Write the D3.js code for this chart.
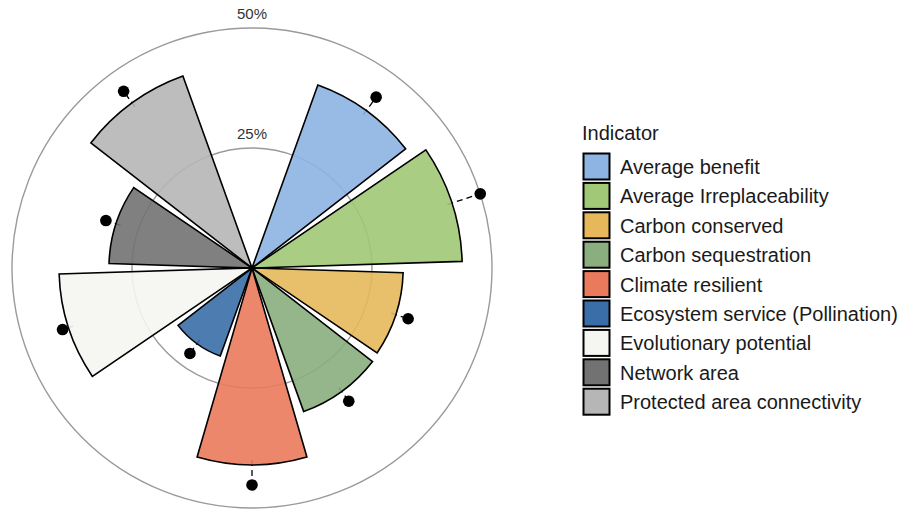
<!DOCTYPE html>
<html>
<head>
<meta charset="utf-8">
<script src="https://cdn.jsdelivr.net/npm/d3@7"></script>
<style>
  body { margin: 0; background: #fff; }
  text { font-family: "Liberation Sans", Arial, sans-serif; }
</style>
</head>
<body>
<svg id="chart"></svg>
<script>
// indicator names, values (share) and upper whisker values
const indicators = ["Average benefit", "Average Irreplaceability", "Carbon conserved",
    "Carbon sequestration", "Climate resilient", "Ecosystem service (Pollination)",
    "Evolutionary potential", "Network area", "Protected area connectivity"]
const values = [0.405, 0.438, 0.315, 0.318, 0.41, 0.195, 0.402, 0.298, 0.425]
const uppers = [0.44, 0.50, 0.342, 0.343, 0.452, 0.22, 0.415, 0.32, 0.455]
const colors = ["#8db4e2", "#a1c877", "#e6b85b", "#8aae7d", "#ea7a5c",
    "#3a6ea8", "#f5f6f1", "#727272", "#b6b6b6"]
const gridTicks = [0.25, 0.5]

const width = 906, height = 512
const cx = 252, cy = 268

const svg = d3.select("#chart")
    .attr("width", width)
    .attr("height", height)

// radius scale: linear in value
const rScale = d3.scaleLinear().domain([0, 0.5]).range([0, 240])

// angular band scale: 10 slots, first slot (top) left empty
const aScale = d3.scaleBand()
    .domain(["", ...indicators])
    .range([-Math.PI / 10, 2 * Math.PI - Math.PI / 10])
    .paddingInner(0.1)
    .paddingOuter(0.05)

const mid = d => aScale(d) + aScale.bandwidth() / 2

const g = svg.append("g").attr("transform", `translate(${cx},${cy})`)

// grid circles
g.append("g").selectAll("circle")
    .data(gridTicks)
    .enter().append("circle")
    .attr("r", d => rScale(d))
    .style("fill", "none")
    .style("stroke", "#9a9a9a")
    .style("stroke-width", 1.4)

// error segments (drawn under bars)
g.append("g").selectAll("line")
    .data(indicators)
    .enter().append("line")
    .attr("x1", (d, i) => rScale(values[i] - 0.01) * Math.sin(mid(d)))
    .attr("y1", (d, i) => -rScale(values[i] - 0.01) * Math.cos(mid(d)))
    .attr("x2", (d, i) => rScale(uppers[i]) * Math.sin(mid(d)))
    .attr("y2", (d, i) => -rScale(uppers[i]) * Math.cos(mid(d)))
    .style("stroke", "#000")
    .style("stroke-width", 1.3)
    .style("stroke-dasharray", "6,4")

// bars
const arc = d3.arc()
    .innerRadius(0)
    .outerRadius((d, i) => rScale(values[i]))
    .startAngle(d => aScale(d))
    .endAngle(d => aScale(d) + aScale.bandwidth())

g.append("g").selectAll("path")
    .data(indicators)
    .enter().append("path")
    .attr("d", (d, i) => arc(d, i))
    .style("fill", (d, i) => colors[i])
    .style("fill-opacity", 0.9)
    .style("stroke", "#000")
    .style("stroke-width", 1.6)
    .style("stroke-linejoin", "miter")

// points at upper end
g.append("g").selectAll("circle")
    .data(indicators)
    .enter().append("circle")
    .attr("cx", (d, i) => rScale(uppers[i]) * Math.sin(mid(d)))
    .attr("cy", (d, i) => -rScale(uppers[i]) * Math.cos(mid(d)))
    .attr("r", 5.8)
    .style("fill", "#000")

// radial tick labels
g.append("g").selectAll("text")
    .data(gridTicks)
    .enter().append("text")
    .attr("x", 0)
    .attr("y", d => -rScale(d) - 9)
    .attr("text-anchor", "middle")
    .style("font-size", "15px")
    .style("fill", "#333")
    .text(d => d3.format(".0%")(d))

// legend
const legend = svg.append("g").attr("transform", "translate(582,0)")

legend.append("text")
    .attr("x", 0)
    .attr("y", 140)
    .style("font-size", "20px")
    .style("fill", "#1a1a1a")
    .text("Indicator")

const rowY = d3.scalePoint().domain(indicators).range([166.5, 401.7])

legend.selectAll("rect")
    .data(indicators)
    .enter().append("rect")
    .attr("x", 1.5)
    .attr("y", d => rowY(d) - 13)
    .attr("width", 26)
    .attr("height", 26)
    .style("fill", (d, i) => colors[i])
    .style("stroke", "#000")
    .style("stroke-width", 2)

legend.selectAll("text.lab")
    .data(indicators)
    .enter().append("text")
    .attr("class", "lab")
    .attr("x", 38)
    .attr("y", d => rowY(d) + 7.5)
    .style("font-size", "20px")
    .style("fill", "#1a1a1a")
    .text(d => d)
</script>
</body>
</html>
